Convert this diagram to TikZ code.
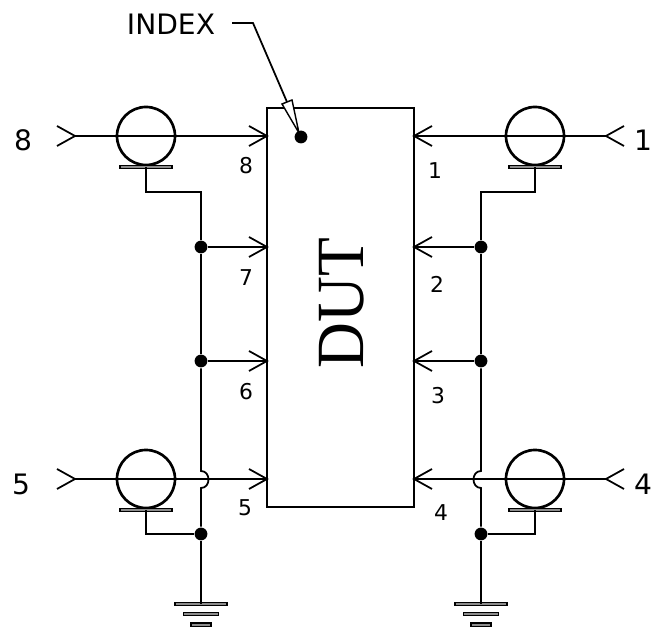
\documentclass[tikz,border=0pt]{standalone}
\usepackage{fontspec}
\setmainfont{DejaVu Sans}
\newfontfamily\dutfont{Liberation Serif}
\usepackage{tikz}
\usetikzlibrary{shapes.geometric, arrows, positioning}

\begin{document}
\begin{tikzpicture} [
        x = 0.025cm, y = -0.025cm,
        every path/.style = {line width=1.25pt},
        chip/.style = {draw, line width=1.25pt, minimum width=3.675cm, minimum height=9.975cm, inner sep=0pt},
        coax/.style = {circle, draw, line width=1.9pt, minimum size=1.45cm, inner sep=0pt},
        plate/.style = {draw, fill=black!45, line width=0.8pt, minimum width=1.3cm, minimum height=0.08cm, inner sep=0pt},
        junction/.style = {circle, fill=black, minimum size=0.32cm, inner sep=0pt},
        gnd/.style = {draw, fill=black!45, line width=0.8pt, minimum height=0.08cm, inner sep=0pt},
        pin/.style = {font=\fontsize{15.5pt}{17pt}\selectfont, inner sep=0pt},
        outer/.style = {font=\fontsize{20pt}{22pt}\selectfont, inner sep=0pt}
    ]
    \useasboundingbox (0,0) rectangle (654,628);

    % device
    \node[chip] (dut) at (340.5,307.5) {};
    \node[rotate=90, xscale=0.94, font=\dutfont\fontsize{48pt}{50pt}\selectfont, inner sep=0pt] (name) at (342,303) {DUT};
    \node[junction] (index) at (301,137) {};

    % index leader
    \node[font=\fontsize{20pt}{22pt}\selectfont, inner sep=0pt] (indextext) at (171,24) {INDEX};
    \coordinate (lead0) at (232,23);
    \coordinate (lead1) at (253,23);
    \coordinate (lead2) at (299,133);
    \coordinate (leadend) at (287,102);
    \coordinate (tipl) at (282,104);
    \coordinate (tipr) at (292,100);
    \draw (lead0) -- (lead1) -- (leadend);
    \draw[fill=white, line width=1pt] (lead2) -- (tipl) -- (tipr) -- cycle;

    % coax lines
    \node[coax] (c8) at (146,136) {};
    \node[coax] (c5) at (146,479) {};
    \node[coax] (c1) at (535,136) {};
    \node[coax] (c4) at (535,479) {};
    \node[plate, below=-0.03cm of c8] (p8) {};
    \node[plate, below=-0.03cm of c5] (p5) {};
    \node[plate, below=-0.03cm of c1] (p1) {};
    \node[plate, below=-0.03cm of c4] (p4) {};

    % wire junctions
    \node[junction] (j7) at (201,247) {};
    \node[junction] (j6) at (201,361) {};
    \node[junction] (jl) at (201,534) {};
    \node[junction] (j2) at (481,247) {};
    \node[junction] (j3) at (481,361) {};
    \node[junction] (jr) at (481,534) {};

    % grounds
    \node[gnd, minimum width=1.3cm] (gl1) at (201,604) {};
    \node[gnd, minimum width=0.87cm, below=0.15cm of gl1] (gl2) {};
    \node[gnd, minimum width=0.5cm, below=0.15cm of gl2] (gl3) {};
    \node[gnd, minimum width=1.3cm] (gr1) at (481,604) {};
    \node[gnd, minimum width=0.87cm, below=0.15cm of gr1] (gr2) {};
    \node[gnd, minimum width=0.5cm, below=0.15cm of gr2] (gr3) {};

    % inputs
    \coordinate (a8) at (75,136);
    \coordinate (a5) at (75,479);
    \coordinate (a1) at (606,136);
    \coordinate (a4) at (606,479);
    \coordinate (b8) at (267,136);
    \coordinate (b7) at (267,247);
    \coordinate (b6) at (267,361);
    \coordinate (b5) at (267,479);
    \coordinate (b1) at (414,136);
    \coordinate (b2) at (414,247);
    \coordinate (b3) at (414,361);
    \coordinate (b4) at (414,479);

    \draw (a8) -- (b8);
    \draw (a5) -- (b5);
    \draw (a1) -- (b1);
    \draw (a4) -- (b4);
    \draw (j7) -- (b7);
    \draw (j6) -- (b6);
    \draw (j2) -- (b2);
    \draw (j3) -- (b3);

    % chevrons
    \foreach \p in {a8,a5,b8,b7,b6,b5} {
        \draw ([shift={(-18,-10)}]\p) -- (\p) -- ([shift={(-18,10)}]\p);
    }
    \foreach \p in {a1,a4,b1,b2,b3,b4} {
        \draw ([shift={(18,-10)}]\p) -- (\p) -- ([shift={(18,10)}]\p);
    }

    % shields
    \draw (p8.center) -- (146,192) -- (201,192) -- (j7);
    \draw (j7) -- (j6);
    \draw (j6) -- (201,471) .. controls (211,471) and (211,488) .. (201,488) -- (jl);
    \draw (p5.center) |- (jl);
    \draw (jl) -- (gl1.center);
    \draw (p1.center) -- (535,192) -- (481,192) -- (j2);
    \draw (j2) -- (j3);
    \draw (j3) -- (481,471) .. controls (471,471) and (471,488) .. (481,488) -- (jr);
    \draw (p4.center) |- (jr);
    \draw (jr) -- (gr1.center);

    % pin numbers
    \node[outer] (n8) at (23,140) {8};
    \node[outer] (n5) at (21,484) {5};
    \node[outer, anchor=east] (n1) at (653,140) {1};
    \node[outer, anchor=east] (n4) at (653,484) {4};
    \node[pin] (t8) at (246,166) {8};
    \node[pin] (t7) at (246,278) {7};
    \node[pin] (t6) at (246,392) {6};
    \node[pin] (t5) at (245,508) {5};
    \node[pin] (t1) at (435,171) {1};
    \node[pin] (t2) at (437,284) {2};
    \node[pin] (t3) at (438,396) {3};
    \node[pin] (t4) at (441,513) {4};
\end{tikzpicture}
\end{document}
